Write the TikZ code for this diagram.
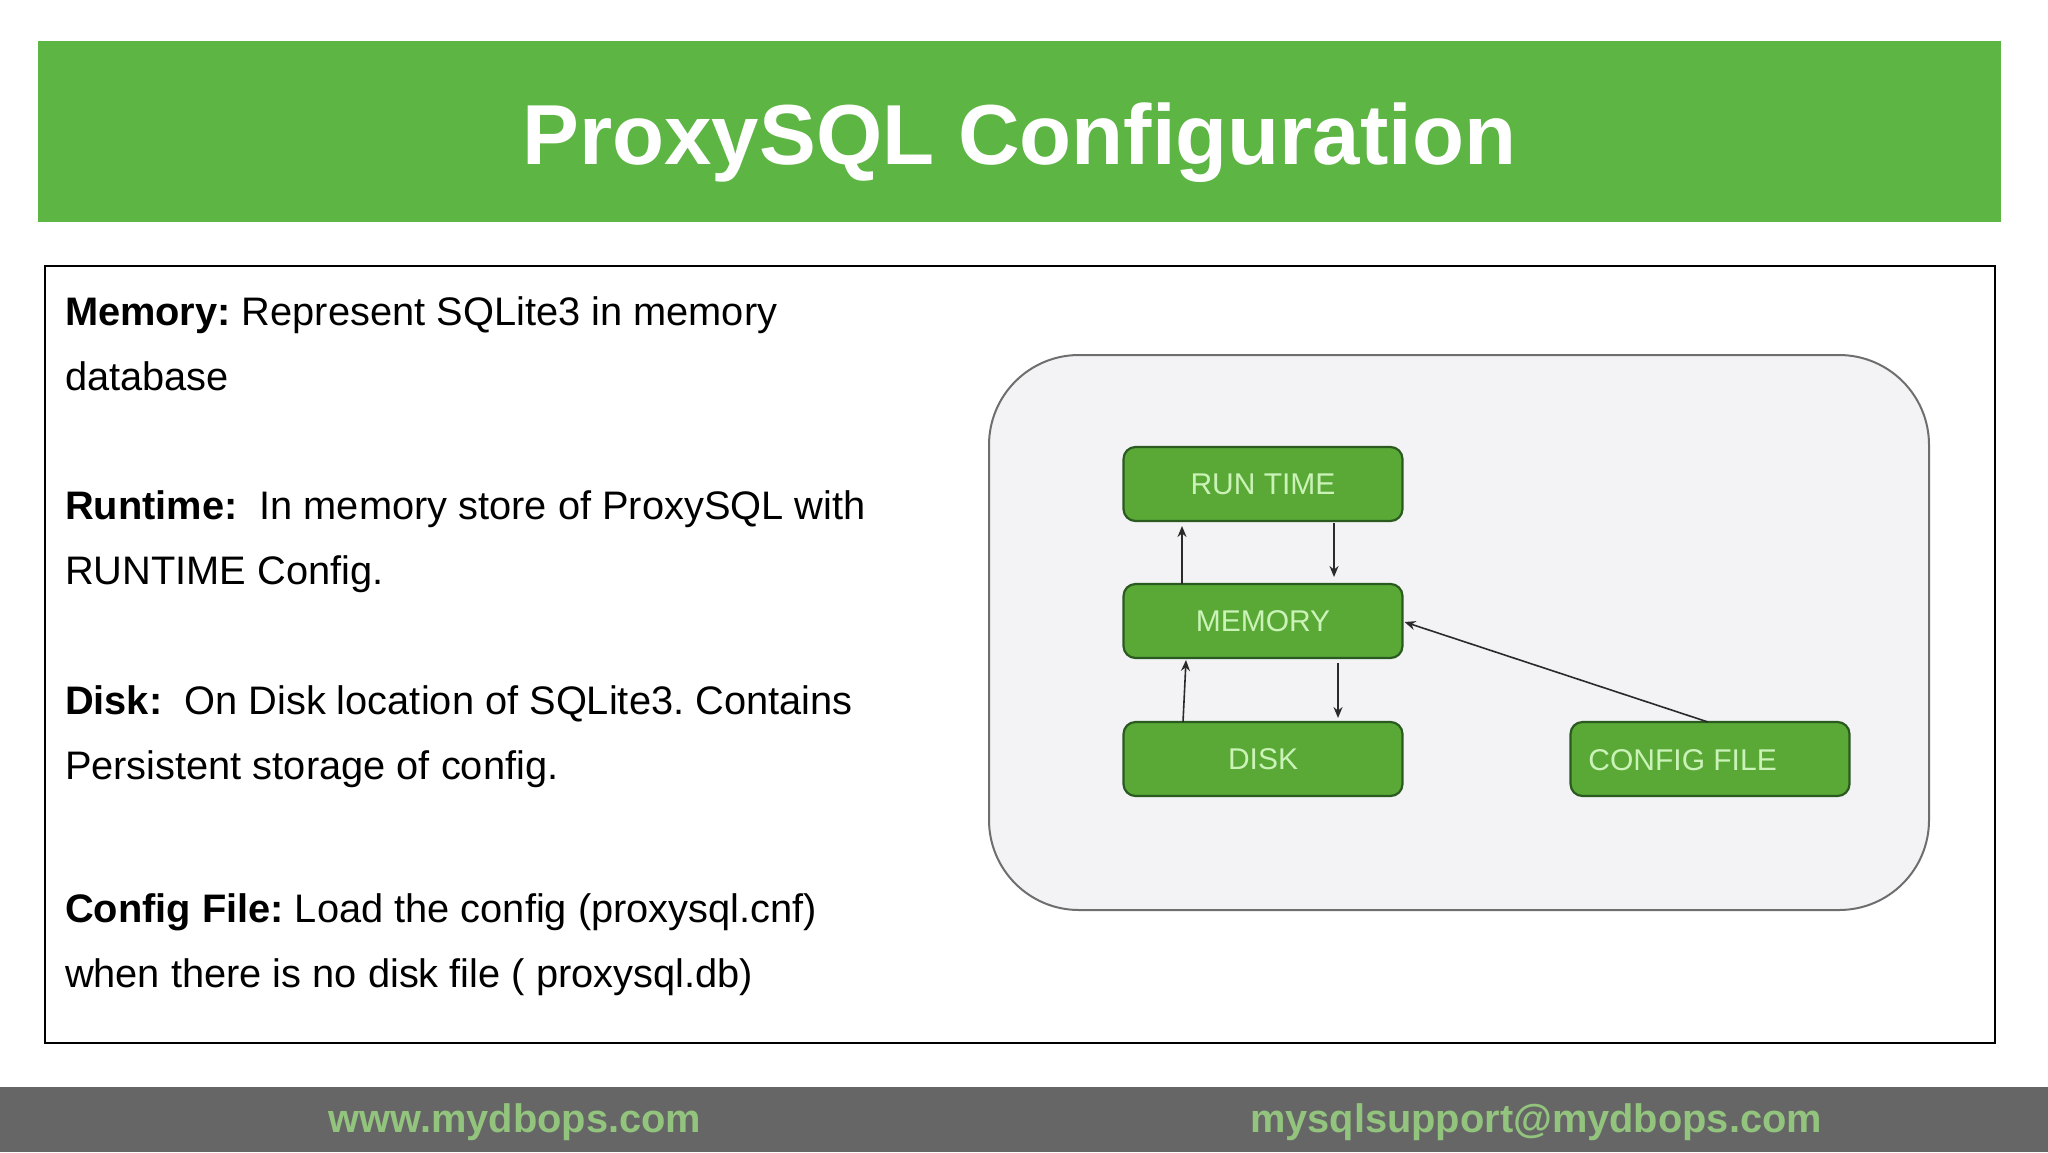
\documentclass[tikz,border=0pt]{standalone}
\usepackage{fontspec}
\setmainfont{Liberation Sans}
\usetikzlibrary{calc,arrows.meta}
\frenchspacing
\definecolor{headgreen}{HTML}{5DB543}
\definecolor{boxgreen}{HTML}{5AA937}
\definecolor{boxedge}{HTML}{2A5A20}
\definecolor{boxtext}{HTML}{CBF3B8}
\definecolor{panelfill}{HTML}{F3F3F5}
\definecolor{paneledge}{HTML}{6E6E6E}
\definecolor{footgrey}{HTML}{666666}
\definecolor{footgreen}{HTML}{93C47D}
\definecolor{arrowcol}{HTML}{2A2A2A}
\tikzset{
  px/.style={x=0.5pt,y=-0.5pt},
  band/.style={inner sep=0pt,outer sep=0pt,anchor=north west},
  bodyline/.style={anchor=base west,inner sep=0pt,outer sep=0pt,text=black,font=\fontsize{19.9}{24}\selectfont\frenchspacing},
  flowbox/.style={draw=boxedge,line width=1.1pt,fill=boxgreen,rounded corners=6pt,text=boxtext,inner sep=0pt,outer sep=0pt,minimum width=139.5pt,minimum height=37pt,font=\fontsize{15}{18}\selectfont},
  flowarrow/.style={draw=arrowcol,line width=0.8pt,-{Stealth[length=5.5pt,width=4.5pt]}},
  footlabel/.style={anchor=base,inner sep=0pt,outer sep=0pt,text=footgreen,font=\bfseries\fontsize{19.9}{24}\selectfont},
}
\begin{document}
\begin{tikzpicture}[px]
\useasboundingbox (0,0) rectangle (2048,1152);
\fill[white] (0,0) rectangle (2048,1152);
% header
\node[band,fill=headgreen,minimum width=981.5pt,minimum height=90.5pt] (header) at (38,41) {};
\node[anchor=base,inner sep=0pt,text=white,font=\bfseries\fontsize{42.6}{50}\selectfont] (title) at (1019.5,164) {ProxySQL Configuration};
% content frame
\node[band,draw=black,line width=1pt,minimum width=975pt,minimum height=388.5pt] (frame) at (44.5,266) {};
% text
\node[bodyline] (t1) at (65,325) {\textbf{Memory:} Represent SQLite3 in memory};
\node[bodyline] (t2) at (65,390) {database};
\node[bodyline] (t3) at (65,519) {\textbf{Runtime:}\ \ In memory store of ProxySQL with};
\node[bodyline] (t4) at (65,584) {RUNTIME Config.};
\node[bodyline] (t5) at (65,714) {\textbf{Disk:}\ \ On Disk location of SQLite3. Contains};
\node[bodyline] (t6) at (65,779) {Persistent storage of config.};
\node[bodyline] (t7) at (65,922) {\textbf{Config File:} Load the config (proxysql.cnf)};
\node[bodyline] (t8) at (65,987) {when there is no disk file ( proxysql.db)};
% panel
\node[band,draw=paneledge,line width=1pt,fill=panelfill,rounded corners=45pt,minimum width=470pt,minimum height=277.5pt] (panel) at (989,355) {};
% flow boxes
\node[flowbox] (run) at (1263,484) {RUN TIME};
\node[flowbox] (mem) at (1263,621) {MEMORY};
\node[flowbox] (disk) at (1263,759) {DISK};
\node[flowbox] (cfg) at (1710,759) {};
\node[anchor=base west,inner sep=0pt,text=boxtext,font=\fontsize{15}{18}\selectfont] (cfgtext) at (1588,770) {CONFIG FILE};
% connectors
\draw[flowarrow] ($(mem.north)+(-81,0)$) -- ($(run.south)+(-81,5)$);
\draw[flowarrow] ($(run.south)+(71,2)$) -- ($(mem.north)+(71,-7)$);
\draw[flowarrow] ($(disk.north)+(-80,0)$) -- ($(mem.south)+(-77,2)$);
\draw[flowarrow] ($(mem.south)+(75,5)$) -- ($(disk.north)+(75,-4)$);
\draw[flowarrow] ($(cfg.north)+(-2,0)$) -- ($(mem.east)+(2,1)$);
% footer
\node[band,fill=footgrey,minimum width=1024pt,minimum height=32.5pt] (footer) at (0,1087) {};
\node[footlabel] (web) at (515,1132) {www.mydbops.com};
\node[footlabel] (mail) at (1536,1132) {mysqlsupport@mydbops.com};
\end{tikzpicture}
\end{document}
